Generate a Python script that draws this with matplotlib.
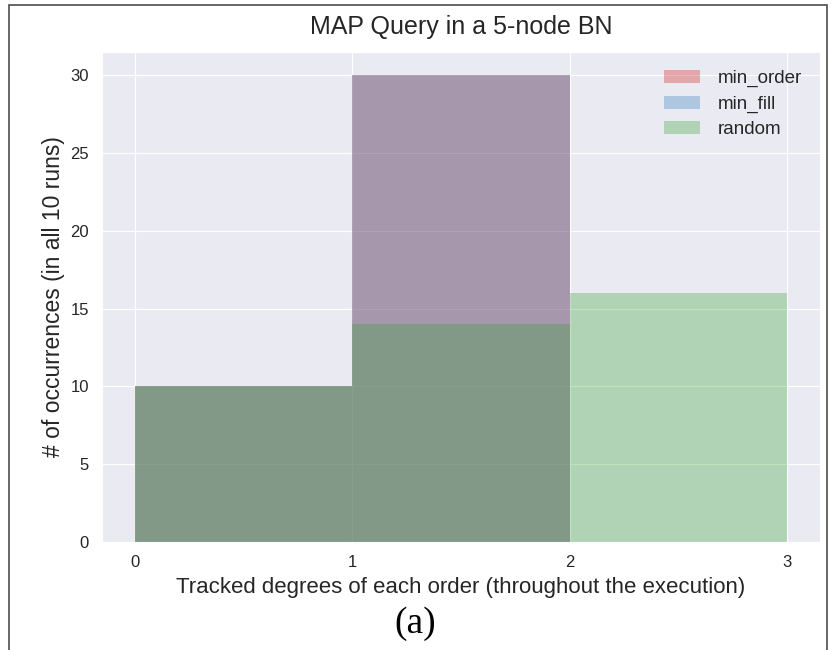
import matplotlib
matplotlib.use("Agg")
import matplotlib.pyplot as plt
import seaborn as sns

# counts per bin of tracked degree
bin_edges = [0, 1, 2, 3]
min_order = [10, 30, 0]
min_fill = [10, 30, 0]
random_ = [10, 14, 16]

sns.set_style("darkgrid")
plt.rcParams["font.family"] = ["Liberation Sans", "DejaVu Sans"]

fig = plt.figure(figsize=(8.31, 6.5), dpi=100)
ax = fig.add_axes([0.1227, 0.1662, 0.8641, 0.7538])

series = [("min_order", min_order, "tab:red", 0.35),
          ("min_fill", min_fill, "tab:blue", 0.3),
          ("random", random_, "tab:green", 0.3)]
for name, counts, col, a in series:
    ax.hist(bin_edges[:-1], bins=bin_edges, weights=counts,
            color=col, alpha=a, label=name, linewidth=0)

ax.set_xticks([0, 1, 2, 3])
ax.set_yticks(range(0, 31, 5))
ax.tick_params(labelsize=12, colors="0.15", pad=6)
ax.set_title("MAP Query in a 5-node BN", fontsize=18, color="0.15", pad=13)
ax.set_xlabel("Tracked degrees of each order (throughout the execution)",
              fontsize=16, color="0.15", labelpad=5)
ax.set_ylabel("# of occurrences (in all 10 runs)", fontsize=16.5, color="0.15",
              labelpad=3.5)
ax.legend(loc="upper right", fontsize=13.5, frameon=False, handlelength=1.95,
          handletextpad=0.95, borderaxespad=0.55, labelspacing=0.45)

# frame of the figure panel and its caption
fig.add_artist(plt.Rectangle((0.011, -0.01), 0.984, 1.002, transform=fig.transFigure,
                             fill=False, edgecolor="0.3", linewidth=1.2))
fig.text(0.5, 0.041, "(a)", ha="center", va="center", fontsize=27,
         family="Liberation Serif", color="black")

fig.savefig("out.png", dpi=100, facecolor="white")
